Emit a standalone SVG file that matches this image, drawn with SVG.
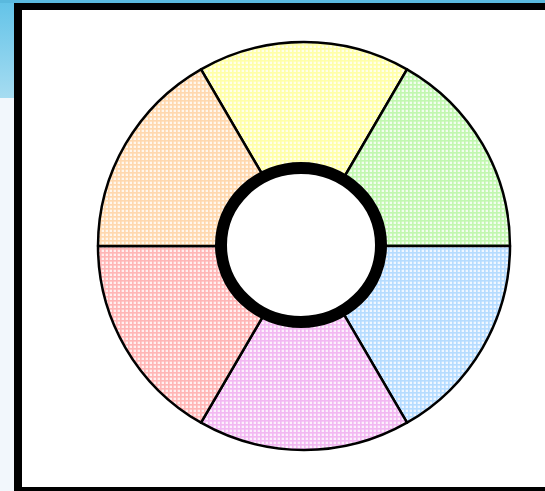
<svg xmlns="http://www.w3.org/2000/svg" width="545" height="491" viewBox="0 0 545 491">
<defs>
<linearGradient id="bg" x1="0" y1="0" x2="0" y2="1">
<stop offset="0" stop-color="#62c3e8"/>
<stop offset="1" stop-color="#a6dcf1"/>
</linearGradient>
<pattern id="pY" width="4" height="4" patternUnits="userSpaceOnUse"><rect width="4" height="4" fill="#ffffe0"/><rect width="4" height="1.6" fill="#ffffa8"/><rect width="1.6" height="4" fill="#ffffa8"/><rect x="2.4" y="2.4" width="1.2" height="1.2" fill="#fff"/></pattern>
<pattern id="pG" width="4" height="4" patternUnits="userSpaceOnUse"><rect width="4" height="4" fill="#ecfde6"/><rect width="4" height="1.6" fill="#c2f7b0"/><rect width="1.6" height="4" fill="#c2f7b0"/><rect x="2.4" y="2.4" width="1.2" height="1.2" fill="#fff"/></pattern>
<pattern id="pB" width="4" height="4" patternUnits="userSpaceOnUse"><rect width="4" height="4" fill="#e8f4ff"/><rect width="4" height="1.6" fill="#b6dcff"/><rect width="1.6" height="4" fill="#b6dcff"/><rect x="2.4" y="2.4" width="1.2" height="1.2" fill="#fff"/></pattern>
<pattern id="pM" width="4" height="4" patternUnits="userSpaceOnUse"><rect width="4" height="4" fill="#fbe8fb"/><rect width="4" height="1.6" fill="#f2b8f2"/><rect width="1.6" height="4" fill="#f2b8f2"/><rect x="2.4" y="2.4" width="1.2" height="1.2" fill="#fff"/></pattern>
<pattern id="pR" width="4" height="4" patternUnits="userSpaceOnUse"><rect width="4" height="4" fill="#ffe8e8"/><rect width="4" height="1.6" fill="#ffb6b6"/><rect width="1.6" height="4" fill="#ffb6b6"/><rect x="2.4" y="2.4" width="1.2" height="1.2" fill="#fff"/></pattern>
<pattern id="pO" width="4" height="4" patternUnits="userSpaceOnUse"><rect width="4" height="4" fill="#fff3e4"/><rect width="4" height="1.6" fill="#ffd8ae"/><rect width="1.6" height="4" fill="#ffd8ae"/><rect x="2.4" y="2.4" width="1.2" height="1.2" fill="#fff"/></pattern>
</defs>
<style>
.seg{stroke:#000;stroke-width:2.5;stroke-linejoin:round}
</style>
<rect width="545" height="491" fill="#ffffff"/>
<rect x="0" y="0" width="14" height="98" fill="url(#bg)"/>
<rect x="0" y="98" width="14" height="393" fill="#f2f7fc"/>
<rect x="0" y="0" width="545" height="3" fill="#5ab9de"/>
<g id="frame">
<rect x="14" y="3" width="531" height="7" fill="#000"/>
<rect x="14" y="3" width="8" height="488" fill="#000"/>
<rect x="14" y="487" width="531" height="4" fill="#000"/>
</g>
<g id="wheel">
<g id="seg-yellow"><path class="seg" fill="url(#pY)" d="M304 246 L201 69.3 A206 204 0 0 1 407 69.3 Z"/></g>
<g id="seg-green"><path class="seg" fill="url(#pG)" d="M304 246 L407 69.3 A206 204 0 0 1 510 246 Z"/></g>
<g id="seg-blue"><path class="seg" fill="url(#pB)" d="M304 246 L510 246 A206 204 0 0 1 407 422.7 Z"/></g>
<g id="seg-magenta"><path class="seg" fill="url(#pM)" d="M304 246 L407 422.7 A206 204 0 0 1 201 422.7 Z"/></g>
<g id="seg-red"><path class="seg" fill="url(#pR)" d="M304 246 L201 422.7 A206 204 0 0 1 98 246 Z"/></g>
<g id="seg-orange"><path class="seg" fill="url(#pO)" d="M304 246 L98 246 A206 204 0 0 1 201 69.3 Z"/></g>
</g>
<g id="hub"><ellipse cx="301" cy="245" rx="80" ry="77" fill="#fff" stroke="#000" stroke-width="12"/></g>
</svg>
